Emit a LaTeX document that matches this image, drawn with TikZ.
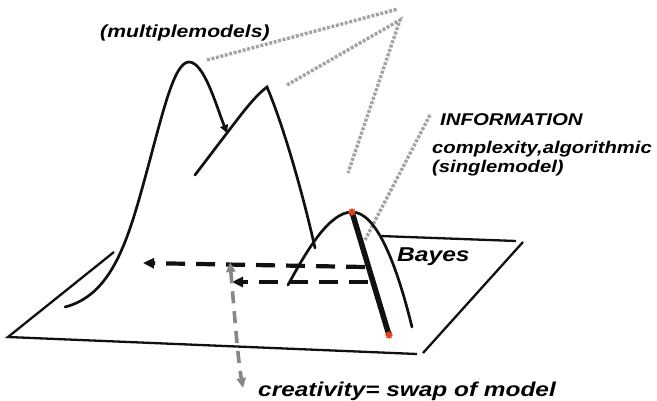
\documentclass[tikz,border=0pt]{standalone}
\usepackage{fontspec}
\usepackage{graphicx}
\setmainfont{Liberation Sans}
\usetikzlibrary{arrows.meta,shapes.geometric,positioning}
\definecolor{bzInk}{HTML}{111111}
\definecolor{bzLink}{HTML}{A3A3A3}
\definecolor{bzSwap}{HTML}{878787}
\definecolor{bzMark}{HTML}{E8401C}
% wide, flat lettering of the labels
\newcommand{\widetxt}[2][1.2]{\scalebox{#1}[1]{#2}}
\tikzset{
  curve/.style={line width=2.7pt, bzInk, line cap=round},
  plane/.style={line width=2.3pt, bzInk},
  link/.style={line width=3.4pt, bzLink, dash pattern=on 3pt off 1.6pt},
  jump/.style={-{Triangle[length=11pt,width=10pt]}, line width=4.2pt, bzInk, dash pattern=on 19pt off 11pt},
  swap/.style={{Triangle[length=10pt,width=9pt]}-{Triangle[length=10pt,width=9pt]}, line width=3.6pt, bzSwap, dash pattern=on 12pt off 8pt},
  marker/.style={star, star points=8, star point ratio=1.8, fill=bzMark, inner sep=0pt, minimum size=9pt},
  lbl/.style={font=\fontsize{#1}{#1}\selectfont\bfseries\itshape, inner sep=0pt, anchor=base west},
  lbl/.default=17
}
\begin{document}
\begin{tikzpicture}[x=1pt, y=-1pt]
  \useasboundingbox (0,0) rectangle (657,400);

  % the plane
  \coordinate (pl) at (8,337);
  \coordinate (plTop) at (114,252);
  \coordinate (plBot) at (417,354);
  \coordinate (prBot) at (423,353);
  \coordinate (prTop) at (523,242);
  \coordinate (ptL) at (380,236);
  \coordinate (ptR) at (516,241);
  \draw[plane] (plTop) -- (pl) -- (plBot);
  \draw[plane] (prBot) -- (prTop);
  \draw[plane] (ptL) -- (ptR);

  % labels
  \node[lbl=17.5] (multi) at (100,37) {\widetxt[1.21]{(multiplemodels)}};
  \node[lbl] (info) at (440,125) {\widetxt{INFORMATION}};
  \node[lbl] (cplx) at (432,153) {\widetxt[1.19]{complexity,algorithmic}};
  \node[lbl] (single) at (432,172) {\widetxt[1.19]{(singlemodel)}};
  \node[lbl=20] (bayes) at (397,261) {\widetxt[1.23]{Bayes}};
  \node[lbl=20, text depth=0pt] (creat) at (258,396) {\widetxt[1.22]{creativity= swap of model}};

  % gray links to the apex
  \coordinate (apexA) at (398,9);
  \coordinate (apexB) at (400,20);
  \coordinate (peakA) at (207,60);
  \coordinate (peakB) at (287,85);
  \coordinate (apexEnd) at (348,173);
  \coordinate (infoTip) at (430,115);
  \coordinate (infoFoot) at (365,240);
  \draw[link] (peakA) -- (apexA);
  \draw[link] (peakB) -- (apexB) -- (apexEnd);
  \draw[link] (infoTip) -- (infoFoot);

  % multiple models
  \coordinate (mStart) at (65,307);
  \coordinate (mPeak) at (189,62);
  \coordinate (mCross) at (227,133);
  \coordinate (nStart) at (195,175);
  \coordinate (nPeak) at (267,87);
  \coordinate (nEnd) at (315,248);
  \draw[curve, -{Triangle[length=8pt,width=8pt]}] (mStart) .. controls (112,295) and (128,240) .. (145,178)
    .. controls (163,112) and (174,62) .. (mPeak) .. controls (204,62) and (216,105) .. (mCross);
  \draw[curve] (nStart) -- (mCross) .. controls (243,112) and (255,96) .. (nPeak)
    .. controls (283,125) and (302,190) .. (nEnd);

  % single model (Bayes)
  \coordinate (bStart) at (288,285);
  \coordinate (bPeak) at (352,212);
  \coordinate (bEnd) at (412,327);
  \coordinate (bFoot) at (389,335);
  \draw[curve] (bStart) .. controls (308,248) and (330,212) .. (bPeak)
    .. controls (376,212) and (396,262) .. (bEnd);
  \draw[line width=5.5pt, bzInk] (bPeak) -- (bFoot);
  \node[marker] (mkTop) at (bPeak) {};
  \node[marker] (mkFoot) at (bFoot) {};

  % jumps between models
  \coordinate (jA) at (365,267);
  \coordinate (jAend) at (143,263);
  \coordinate (jB) at (368,282);
  \coordinate (jBend) at (232,282);
  \draw[jump] (jA) -- (jAend);
  \draw[jump] (jB) -- (jBend);

  % swap
  \coordinate (swTop) at (230,262);
  \coordinate (swFoot) at (243,388);
  \draw[swap] (swTop) .. controls (235,320) and (238,360) .. (swFoot);
\end{tikzpicture}
\end{document}
